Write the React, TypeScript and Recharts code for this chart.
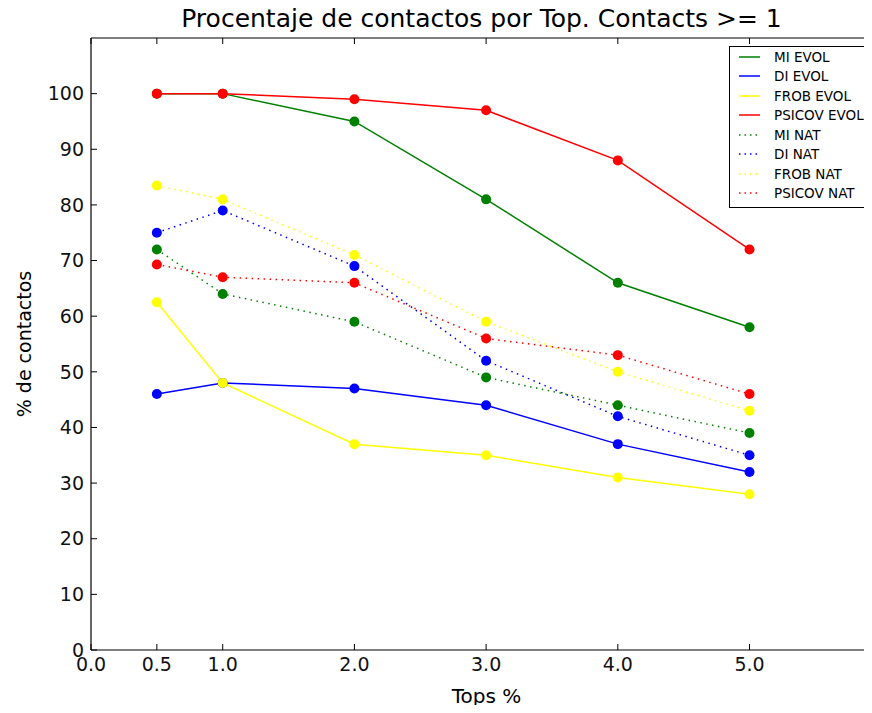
import React from "react";
import { LineChart, Line, XAxis, YAxis, ReferenceLine } from "recharts";

const tops = [0.5, 1.0, 2.0, 3.0, 4.0, 5.0];
const miEvol = [100, 100, 95, 81, 66, 58];
const diEvol = [46, 48, 47, 44, 37, 32];
const frobEvol = [62.5, 48, 37, 35, 31, 28];
const psicovEvol = [100, 100, 99, 97, 88, 72];
const miNat = [72, 64, 59, 49, 44, 39];
const diNat = [75, 79, 69, 52, 42, 35];
const frobNat = [83.5, 81, 71, 59, 50, 43];
const psicovNat = [69.3, 67, 66, 56, 53, 46];

const xTicks = [0, 0.5, 1, 2, 3, 4, 5];
const yTicks = [0, 10, 20, 30, 40, 50, 60, 70, 80, 90, 100];

const series = [
  { key: "miEvol", name: "MI EVOL", values: miEvol, color: "#008000", dotted: false },
  { key: "diEvol", name: "DI EVOL", values: diEvol, color: "#0000ff", dotted: false },
  { key: "frobEvol", name: "FROB EVOL", values: frobEvol, color: "#ffff00", dotted: false },
  { key: "psicovEvol", name: "PSICOV EVOL", values: psicovEvol, color: "#ff0000", dotted: false },
  { key: "miNat", name: "MI NAT", values: miNat, color: "#008000", dotted: true },
  { key: "diNat", name: "DI NAT", values: diNat, color: "#0000ff", dotted: true },
  { key: "frobNat", name: "FROB NAT", values: frobNat, color: "#ffff00", dotted: true },
  { key: "psicovNat", name: "PSICOV NAT", values: psicovNat, color: "#ff0000", dotted: true },
];

const data = tops.map((x, i) => {
  const row: any = { x };
  series.forEach((s) => (row[s.key] = s.values[i]));
  return row;
});

const FONT = "'DejaVu Sans', sans-serif";
const W = 872;
const H = 713;
const PLOT_TOP = 38;
const PLOT_BOTTOM = 650;
const PLOT_LEFT = 91;

const XTick = ({ x, y, payload }: any) => (
  <g>
    <line x1={x} x2={x} y1={PLOT_BOTTOM} y2={PLOT_BOTTOM - 6} stroke="#000" />
    <line x1={x} x2={x} y1={PLOT_TOP} y2={PLOT_TOP + 6} stroke="#000" />
    <text x={x} y={y} dy="0.71em" textAnchor="middle" fontSize={19} fill="#111" fontFamily={FONT}>
      {Number(payload.value).toFixed(1)}
    </text>
  </g>
);

const YTick = ({ x, y, payload }: any) => (
  <g>
    <line x1={PLOT_LEFT} x2={PLOT_LEFT + 6} y1={y} y2={y} stroke="#000" />
    <text x={x} y={y} dy="0.355em" textAnchor="end" fontSize={19} fill="#111" fontFamily={FONT}>
      {payload.value}
    </text>
  </g>
);

const LegendBox = () => (
  <div
    style={{
      position: "absolute",
      left: 729,
      top: 46,
      width: 160,
      height: 162,
      border: "1px solid #000",
      background: "#fff",
      boxSizing: "border-box",
      fontFamily: FONT,
      fontSize: 13.5,
      zIndex: 3,
    }}
  >
    {series.map((s) => (
      <div key={s.key} style={{ display: "flex", alignItems: "center", height: 19.5 }}>
        <svg width={44} height={10}>
          <line
            x1={9} x2={30} y1={5} y2={5}
            stroke={s.color} strokeWidth={1.5}
            strokeDasharray={s.dotted ? "1.5 4" : undefined}
          />
        </svg>
        <span style={{ whiteSpace: "nowrap" }}>{s.name}</span>
      </div>
    ))}
  </div>
);

export default function App() {
  return (
    <div style={{ margin: -8, width: 872, height: H, overflow: "hidden", position: "relative", background: "#fff" }}>
      <div
        style={{
          position: "absolute", left: 86, width: 791, top: 4, textAlign: "center",
          fontFamily: FONT, fontSize: 25, zIndex: 2,
        }}
      >
        Procentaje de contactos por Top. Contacts &gt;= 1
      </div>
      <div
        style={{
          position: "absolute", left: 91, width: 791, top: 684, textAlign: "center",
          fontFamily: FONT, fontSize: 20, zIndex: 2,
        }}
      >
        Tops %
      </div>
      <div
        style={{
          position: "absolute", left: 24, top: 344, transform: "translate(-50%, -50%) rotate(-90deg)",
          fontFamily: FONT, fontSize: 19, whiteSpace: "nowrap", zIndex: 2,
        }}
      >
        % de contactos
      </div>
      <LegendBox />
      <LineChart width={W} height={H} data={data} margin={{ top: PLOT_TOP, right: 0, bottom: 23, left: 31 }}>
        <ReferenceLine y={110} stroke="#000" strokeWidth={1.2} ifOverflow="visible" />
        <ReferenceLine y={0} stroke="#000" strokeWidth={1.2} ifOverflow="visible" />
        <ReferenceLine x={0} stroke="#000" strokeWidth={1.2} ifOverflow="visible" />
        <XAxis
          dataKey="x" type="number" domain={[0, 5.93]} ticks={xTicks} allowDataOverflow
          height={40} tickSize={0} tickMargin={8} tick={<XTick />} axisLine={false} tickLine={false}
        />
        <YAxis
          type="number" domain={[0, 110]} ticks={yTicks} allowDataOverflow
          width={60} tickSize={0} tickMargin={7} tick={<YTick />} axisLine={false} tickLine={false}
        />
        {series.map((s) => (
          <Line
            key={s.key}
            dataKey={s.key}
            name={s.name}
            stroke={s.color}
            strokeWidth={1.5}
            strokeDasharray={s.dotted ? "1.5 4.5" : undefined}
            dot={{ r: 5, fill: s.color, stroke: s.color, strokeWidth: 0, strokeDasharray: "" }}
            activeDot={false}
            isAnimationActive={false}
          />
        ))}
      </LineChart>
    </div>
  );
}
